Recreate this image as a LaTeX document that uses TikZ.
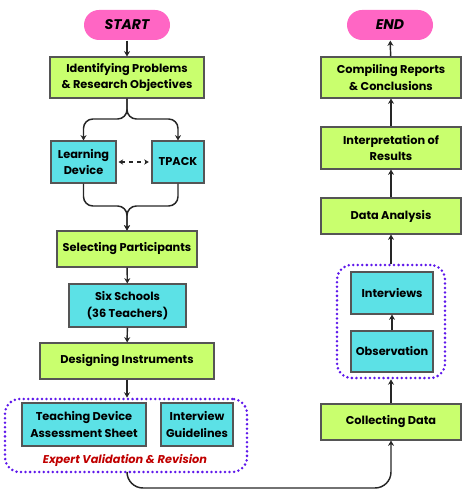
\documentclass[tikz,border=0pt]{standalone}
\usepackage{fontspec}
\setmainfont{Poppins}
\usetikzlibrary{arrows.meta}
\definecolor{lime}{HTML}{C9FF6E}
\definecolor{cyanbox}{HTML}{5CE1E6}
\definecolor{pinkpill}{HTML}{FF66C4}
\definecolor{edgegray}{HTML}{555555}
\definecolor{dotpurple}{HTML}{5E17EB}
\definecolor{labelred}{HTML}{C00000}
\begin{document}
\begin{tikzpicture}[x=0.75pt,y=-0.75pt,
  base/.style={draw=edgegray,line width=0.8pt,align=center,inner sep=0pt,
    font=\fontsize{8.5}{12.5}\selectfont\bfseries,text=black},
  gbox/.style={base,fill=lime},
  cbox/.style={base,fill=cyanbox},
  pill/.style={base,draw=none,fill=pinkpill,rounded corners=11.25pt,
    minimum width=64.5pt,minimum height=22.5pt,font=\fontsize{10.5}{12}\selectfont\bfseries\itshape},
  grp/.style={draw=dotpurple,line width=2.1pt,line cap=round,dash pattern=on 0pt off 3.4pt,rounded corners=11pt,inner sep=0pt},
  arr/.style={draw=black!85,line width=1.1pt,-{Stealth[length=4pt,width=4.5pt]}},
  ln/.style={draw=black!85,line width=1.1pt}
]
\useasboundingbox (0,0) rectangle (469,495);
% left column
\node[pill] (start) at (127,25) {START};
\node[gbox,minimum width=115.5pt,minimum height=30.75pt] (ident) at (127,77.5) {Identifying Problems\\\& Research Objectives};
\node[cbox,minimum width=48.75pt,minimum height=31.5pt] (ld) at (83.5,162) {Learning\\Device};
\node[cbox,minimum width=39pt,minimum height=31.5pt] (tpack) at (178,162) {TPACK};
\node[gbox,minimum width=105pt,minimum height=27pt] (sel) at (127,249) {Selecting Participants};
\node[cbox,minimum width=87.75pt,minimum height=32.25pt] (six) at (127.5,305.5) {Six Schools\\(36 Teachers)};
\node[gbox,minimum width=130.5pt,minimum height=27pt] (des) at (127,361) {Designing Instruments};
\node[grp,minimum width=181.5pt,minimum height=54.75pt] (g1) at (126,435.5) {};
\node[cbox,minimum width=93pt,minimum height=32.25pt] (tdas) at (84,424.5) {Teaching Device\\Assessment Sheet};
\node[cbox,minimum width=54pt,minimum height=32.25pt] (ig) at (197,424.5) {Interview\\Guidelines};
\node[font=\fontsize{8.5}{10}\selectfont\bfseries\itshape,text=labelred,inner sep=0pt] (lab) at (125,460) {Expert Validation \& Revision};
% right column
\node[pill] (end) at (390,25) {END};
\node[gbox,minimum width=105pt,minimum height=30.75pt] (comp) at (391,77.5) {Compiling Reports\\\& Conclusions};
\node[gbox,minimum width=105pt,minimum height=31.5pt] (interp) at (391,148) {Interpretation of\\Results};
\node[gbox,minimum width=105pt,minimum height=27pt] (da) at (391,216) {Data Analysis};
\node[grp,minimum width=81pt,minimum height=84.75pt] (g2) at (391,321.5) {};
\node[cbox,minimum width=61.5pt,minimum height=31.5pt] (intv) at (392,293) {Interviews};
\node[cbox,minimum width=61.5pt,minimum height=30.75pt] (obs) at (392,351.5) {Observation};
\node[gbox,minimum width=105pt,minimum height=27pt] (coll) at (391,422) {Collecting Data};
% connectors left
\draw[arr] (start) -- (ident);
\draw[arr,rounded corners=7] (ident.south) -- (127,119) -| (ld.north);
\draw[arr,rounded corners=7] (ident.south) -- (127,119) -| (tpack.north);
\draw[draw=black!85,line width=0.9pt,dashed,{Stealth[length=3.5pt,width=4pt]}-{Stealth[length=3.5pt,width=4pt]}] (ld.east) ++(2,0) -- ([xshift=-2]tpack.west);
\draw[arr,rounded corners=7] (ld.south) |- (127,206) -- (sel.north);
\draw[arr,rounded corners=7] (tpack.south) |- (127,206) -- (sel.north);
\draw[arr] (sel) -- (six);
\draw[arr] (six) -- (des);
\draw[arr] (des.south) -- (g1.north -| des.south);
\draw[arr,rounded corners=12] (g1.south -| des.south) -- (127,488) -| (coll.south);
% connectors right
\draw[arr] (coll) -- (g2.south -| coll.north);
\draw[arr] (obs) -- (intv);
\draw[arr] (g2.north -| da.south) -- (da);
\draw[arr] (da) -- (interp);
\draw[arr] (interp) -- (comp);
\draw[arr] (comp) -- (end);
\end{tikzpicture}
\end{document}
